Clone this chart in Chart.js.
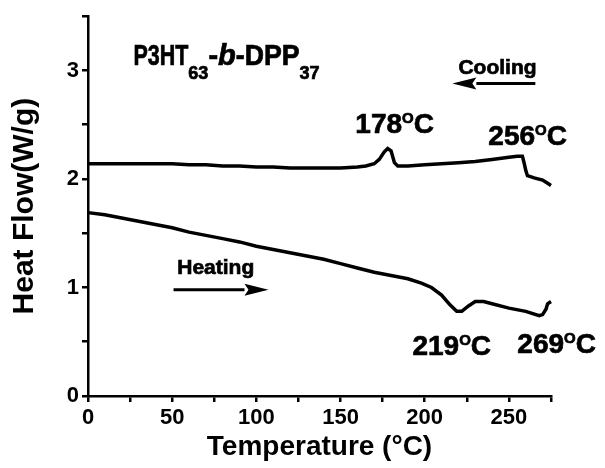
<!DOCTYPE html>
<html lang="en">
<head>
<meta charset="UTF-8">
<title>DSC P3HT-b-DPP</title>
<script src="https://cdn.jsdelivr.net/npm/chart.js"></script>
<style>
  html, body { margin: 0; padding: 0; background: white; }
</style>
</head>
<body>
<canvas id="myChart" width="605" height="468"></canvas>
<script>
// cooling scan
const coolTemp = [0, 10, 20, 30, 40, 50, 60, 70, 80, 90, 100, 110, 120, 130, 140, 150, 160, 165, 170, 173, 176, 178, 180, 182, 184, 190, 200, 210, 220, 230, 240, 250, 255, 258, 259, 260, 261, 265, 270, 273, 275];
const coolFlow = [2.14, 2.14, 2.14, 2.14, 2.14, 2.14, 2.13, 2.13, 2.12, 2.12, 2.11, 2.11, 2.10, 2.10, 2.10, 2.10, 2.11, 2.12, 2.14, 2.18, 2.25, 2.28, 2.26, 2.15, 2.12, 2.12, 2.13, 2.14, 2.15, 2.16, 2.18, 2.20, 2.21, 2.21, 2.15, 2.08, 2.03, 2.01, 1.99, 1.96, 1.94];

// heating scan
const heatTemp = [0, 10, 20, 30, 40, 50, 60, 70, 80, 90, 100, 110, 120, 130, 140, 150, 160, 170, 180, 190, 198, 204, 210, 215, 219, 222, 226, 230, 235, 240, 250, 260, 268, 270, 272, 273, 275];
const heatFlow = [1.69, 1.67, 1.64, 1.61, 1.58, 1.55, 1.51, 1.48, 1.45, 1.42, 1.38, 1.35, 1.32, 1.29, 1.26, 1.22, 1.18, 1.14, 1.11, 1.08, 1.04, 1.00, 0.93, 0.84, 0.78, 0.78, 0.83, 0.87, 0.87, 0.85, 0.81, 0.78, 0.74, 0.75, 0.80, 0.85, 0.87];

const xMax = 275;
const yMax = 3.5;

const FONT = '"Liberation Sans", Arial, sans-serif';

// text labels placed in data units
const notes = [
  { x: 27, y: 3.05, parts: [
    { t: 'P3HT', size: 29, sx: 0.74 },
    { t: '63', size: 19, dy: 14, sx: 0.95 },
    { t: '-', size: 29 },
    { t: 'b', size: 29, italic: true },
    { t: '-DPP', size: 29, sx: 0.92 },
    { t: '37', size: 19, dy: 14, sx: 0.95 }
  ] },
  { x: 220, y: 2.97, parts: [{ t: 'Cooling', size: 21 }] },
  { x: 53, y: 1.12, parts: [{ t: 'Heating', size: 21 }] },
  { x: 158.8, y: 2.42, parts: [{ t: '178', size: 28 }, { t: 'O', size: 15, dy: -10 }, { t: 'C', size: 28 }] },
  { x: 237.8, y: 2.31, parts: [{ t: '256', size: 28 }, { t: 'O', size: 15, dy: -10 }, { t: 'C', size: 28 }] },
  { x: 192.7, y: 0.38, parts: [{ t: '219', size: 28 }, { t: 'O', size: 15, dy: -10 }, { t: 'C', size: 28 }] },
  { x: 255, y: 0.40, parts: [{ t: '269', size: 28 }, { t: 'O', size: 15, dy: -10 }, { t: 'C', size: 28 }] }
];

const arrows = [
  { x1: 50.8, x2: 107.2, y: 0.98, dir: 1 },
  { x1: 216.4, x2: 265.7, y: 2.88, dir: -1 }
];

function drawRich(ctx, parts, x, y) {
  let cx = x;
  parts.forEach(p => {
    const sx = p.sx || 1;
    ctx.save();
    ctx.font = (p.italic ? 'italic ' : '') + 'bold ' + p.size + 'px ' + FONT;
    ctx.translate(cx, y + (p.dy || 0));
    ctx.scale(sx, 1);
    ctx.lineWidth = 0.7;
    ctx.fillText(p.t, 0, 0);
    ctx.strokeText(p.t, 0, 0);
    cx += ctx.measureText(p.t).width * sx;
    ctx.restore();
  });
}

const notesPlugin = {
  id: 'notes',
  afterDraw(chart) {
    const ctx = chart.ctx;
    const xs = chart.scales.x, ys = chart.scales.y;
    ctx.save();
    ctx.fillStyle = '#000';
    ctx.strokeStyle = '#000';
    ctx.textBaseline = 'alphabetic';
    notes.forEach(n => {
      drawRich(ctx, n.parts, xs.getPixelForValue(n.x), ys.getPixelForValue(n.y));
    });
    arrows.forEach(a => {
      const px1 = xs.getPixelForValue(a.x1), px2 = xs.getPixelForValue(a.x2);
      const py = ys.getPixelForValue(a.y);
      const tip = a.dir > 0 ? px2 : px1;
      const base = tip - a.dir * 24;
      ctx.lineWidth = 3;
      ctx.beginPath();
      ctx.moveTo(a.dir > 0 ? px1 : px2, py);
      ctx.lineTo(base, py);
      ctx.stroke();
      ctx.beginPath();
      ctx.moveTo(tip, py);
      ctx.lineTo(base, py - 6);
      ctx.lineTo(base + a.dir * 4, py);
      ctx.lineTo(base, py + 6);
      ctx.closePath();
      ctx.fill();
    });
    ctx.restore();
  }
};

function toXY(xv, yv) {
  return xv.map((v, i) => ({ x: v, y: yv[i] }));
}

const axisCommon = {
  border: { display: true, color: '#000', width: 2.5 },
  grid: { drawOnChartArea: false, color: '#000', tickColor: '#000', tickLength: 6, lineWidth: 2.5 }
};

new Chart(document.getElementById('myChart'), {
  type: 'line',
  data: {
    datasets: [
      { label: 'Cooling', data: toXY(coolTemp, coolFlow), borderColor: '#000', borderWidth: 3.5, pointRadius: 0, tension: 0, clip: false },
      { label: 'Heating', data: toXY(heatTemp, heatFlow), borderColor: '#000', borderWidth: 3.5, pointRadius: 0, tension: 0, clip: false }
    ]
  },
  options: {
    responsive: false,
    animation: false,
    devicePixelRatio: 1,
    layout: { padding: { top: 16, right: 54, left: 0, bottom: 0 } },
    plugins: { legend: { display: false }, tooltip: { enabled: false } },
    scales: {
      x: {
        type: 'linear',
        min: 0,
        max: xMax,
        ...axisCommon,
        ticks: {
          stepSize: 25,
          autoSkip: false,
          maxRotation: 0,
          padding: 3,
          color: '#000',
          font: { family: FONT, size: 22, weight: 'bold' },
          callback: v => (v % 50 === 0 ? v : '')
        },
        title: {
          display: true,
          text: 'Temperature (\u00B0C)',
          color: '#000',
          font: { family: FONT, size: 28, weight: 'bold' },
          padding: { top: 0, bottom: 4 }
        },
        afterFit: s => { s.height = 72; }
      },
      y: {
        min: 0,
        max: yMax,
        ...axisCommon,
        ticks: {
          stepSize: 0.5,
          autoSkip: false,
          padding: 3,
          color: '#000',
          font: { family: FONT, size: 22, weight: 'bold' },
          callback: v => (Number.isInteger(v) ? v : '')
        },
        title: {
          display: true,
          text: 'Heat Flow(W/g)',
          color: '#000',
          font: { family: FONT, size: 30, weight: 'bold' },
          padding: { top: 7, bottom: 0 }
        },
        afterFit: s => { s.width = 88; }
      }
    }
  },
  plugins: [notesPlugin]
});
</script>
</body>
</html>
